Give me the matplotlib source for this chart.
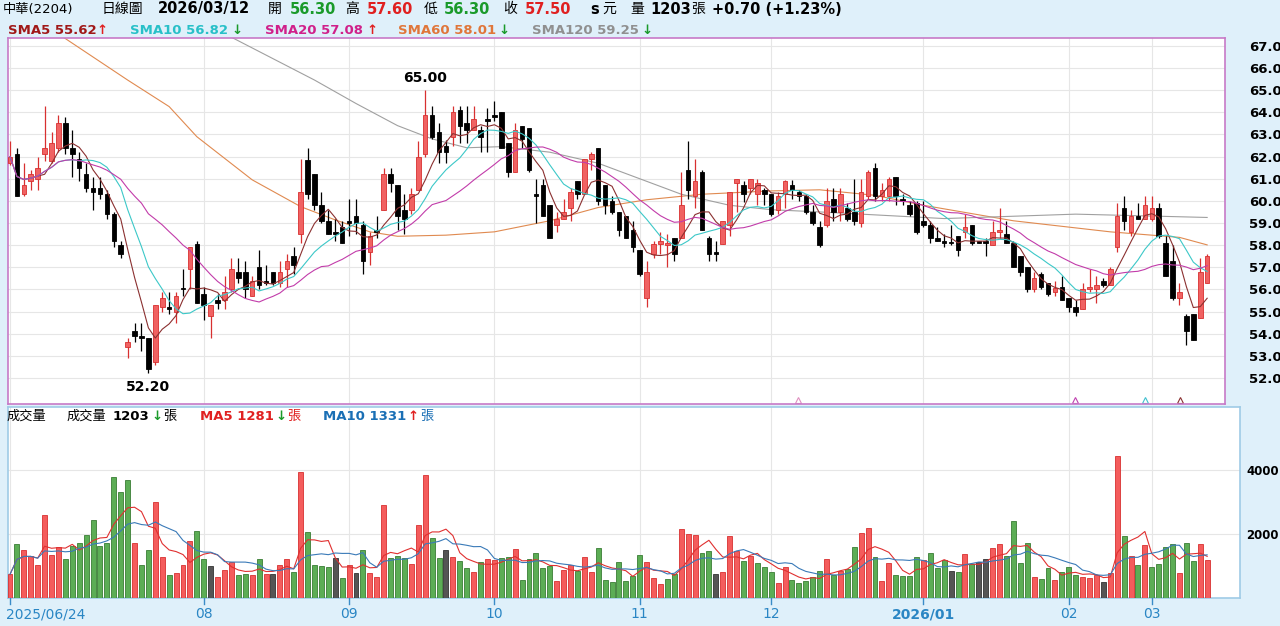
import numpy as np
import pandas as pd
import matplotlib
matplotlib.use("Agg")
import matplotlib.pyplot as plt
from matplotlib.patches import Rectangle

plt.rcParams['font.family'] = ['DejaVu Sans', 'Noto Sans CJK TC']

# ---- data (2204 daily, 2025/06/24 .. 2026/03/12) ----
opens = [61.7, 62.1, 60.3, 60.9, 61.0, 62.1, 61.8, 62.4, 63.5, 62.4,
         61.9, 61.2, 60.6, 60.6, 60.3, 59.4, 58.0, 53.4, 54.1, 53.9,
         53.8, 52.7, 55.2, 55.2, 55.0, 56.0, 56.9, 58.05, 55.8, 54.8,
         55.5, 55.5, 56.0, 56.8, 56.8, 55.7, 57.0, 56.4, 56.8, 56.3,
         56.9, 57.5, 58.5, 61.85, 61.2, 59.8, 59.1, 58.6, 58.8, 59.1,
         59.3, 58.9, 57.7, 58.7, 59.6, 61.2, 60.7, 59.6, 59.6, 60.5,
         62.1, 63.9, 63.1, 62.5, 62.9, 64.1, 63.5, 63.2, 63.2, 63.7,
         63.9, 64.0, 62.6, 61.3, 63.4, 63.3, 60.3, 60.7, 59.8, 58.9,
         59.2, 59.7, 60.9, 60.3, 61.9, 62.4, 60.7, 60.0, 59.5, 59.3,
         58.7, 57.8, 55.6, 57.6, 58.05, 58.0, 58.3, 58.3, 61.4, 60.2,
         61.3, 58.3, 57.7, 58.05, 58.9, 60.8, 60.7, 60.6, 60.3, 60.5,
         60.3, 59.6, 60.3, 60.7, 60.4, 60.2, 59.5, 58.8, 58.9, 60.1,
         59.5, 59.7, 59.5, 59.0, 60.2, 61.5, 60.2, 60.2, 61.1, 60.1,
         59.8, 59.9, 59.1, 58.9, 58.3, 58.2, 58.1, 58.4, 58.6, 58.9,
         58.2, 58.2, 58.0, 58.6, 58.5, 58.1, 57.5, 57.0, 56.0, 56.7,
         56.3, 55.9, 56.1, 55.6, 55.2, 55.1, 56.0, 56.0, 56.4, 56.2,
         57.9, 59.7, 58.6, 59.3, 59.2, 59.2, 59.7, 58.1, 57.3, 55.6,
         54.8, 54.9, 54.7, 56.3]
highs = [62.7, 62.4, 61.7, 61.4, 62.0, 64.3, 63.1, 63.9, 63.8, 63.2,
         62.2, 61.7, 61.1, 61.1, 60.5, 59.5, 58.2, 53.8, 54.5, 54.5,
         53.8, 55.3, 55.9, 55.9, 55.9, 56.9, 57.9, 58.2, 56.1, 55.3,
         55.8, 56.6, 57.4, 57.4, 57.3, 56.6, 57.8, 57.1, 56.8, 57.3,
         57.6, 57.9, 61.9, 62.4, 61.2, 60.4, 59.6, 59.2, 59.1, 60.1,
         60.1, 59.1, 58.6, 59.3, 61.5, 61.5, 60.7, 60.3, 60.6, 62.7,
         65.0, 64.3, 63.5, 62.75, 64.3, 64.3, 64.3, 64.3, 63.4, 64.2,
         64.5, 64.0, 62.6, 63.5, 63.4, 63.3, 61.0, 61.0, 59.8, 59.5,
         60.1, 60.6, 60.9, 61.9, 62.2, 62.4, 60.7, 60.2, 59.5, 59.3,
         59.1, 57.8, 57.3, 58.2, 58.6, 58.5, 58.3, 61.3, 62.7, 61.9,
         61.4, 58.4, 58.2, 59.1, 60.4, 61.0, 60.9, 61.0, 61.0, 60.6,
         60.3, 60.4, 60.95, 60.95, 60.5, 60.3, 59.8, 59.1, 60.6, 60.6,
         60.6, 59.9, 61.0, 61.0, 61.4, 61.7, 60.8, 61.1, 61.1, 60.3,
         60.0, 60.0, 60.0, 59.1, 58.8, 58.5, 58.9, 58.4, 59.4, 58.9,
         58.2, 58.3, 59.1, 59.7, 59.1, 58.2, 57.5, 57.0, 56.8, 56.8,
         56.3, 56.4, 56.6, 55.6, 55.5, 56.3, 56.9, 56.6, 56.5, 57.0,
         59.9, 60.2, 59.6, 59.9, 60.2, 60.2, 59.9, 58.4, 58.0, 56.3,
         54.9, 54.9, 57.4, 57.6]
lows = [61.6, 60.2, 60.2, 60.5, 60.5, 61.8, 61.7, 62.2, 62.1, 61.1,
        60.9, 60.4, 59.6, 60.1, 59.2, 57.9, 57.4, 52.9, 53.6, 53.2,
        52.2, 52.6, 55.0, 54.9, 54.5, 55.7, 56.0, 55.4, 54.6, 53.8,
        55.1, 55.1, 55.9, 56.3, 55.6, 55.7, 56.0, 56.2, 56.2, 56.1,
        56.1, 56.7, 58.1, 60.1, 59.6, 59.0, 58.5, 58.2, 58.1, 58.4,
        58.5, 56.7, 57.1, 58.3, 59.6, 60.4, 58.7, 58.5, 59.4, 60.5,
        62.0, 62.8, 61.7, 61.7, 62.5, 62.6, 62.6, 63.2, 62.2, 62.2,
        63.6, 62.4, 61.1, 61.3, 62.4, 61.3, 59.0, 59.3, 58.3, 58.6,
        59.2, 59.1, 60.1, 60.3, 61.4, 59.8, 59.4, 59.4, 58.4, 58.3,
        57.7, 56.6, 55.2, 57.4, 57.6, 57.0, 57.3, 58.3, 60.1, 59.7,
        58.7, 57.3, 57.3, 58.05, 58.4, 59.5, 59.97, 60.3, 59.8, 59.8,
        59.3, 59.4, 59.7, 60.1, 60.0, 59.4, 58.9, 57.9, 58.8, 59.1,
        59.1, 59.1, 58.9, 58.8, 60.1, 60.0, 60.0, 60.0, 59.8, 59.8,
        59.3, 58.5, 58.8, 58.1, 58.2, 57.9, 58.0, 57.5, 58.3, 58.0,
        58.1, 57.5, 58.0, 58.3, 58.1, 57.0, 56.6, 55.9, 55.9, 56.0,
        55.7, 55.7, 55.5, 55.0, 54.8, 55.1, 55.9, 55.4, 56.1, 56.2,
        57.7, 58.7, 58.4, 59.2, 59.2, 59.1, 58.3, 56.6, 55.5, 55.3,
        53.5, 53.7, 54.7, 56.3]
closes = [62.0, 60.2, 60.7, 61.2, 61.5, 62.4, 62.6, 63.5, 62.4, 62.1,
          61.5, 60.6, 60.4, 60.3, 59.4, 58.2, 57.6, 53.6, 53.9, 53.8,
          52.4, 55.3, 55.6, 55.1, 55.7, 56.0, 57.9, 55.4, 55.3, 55.3,
          55.4, 55.9, 56.9, 56.5, 56.0, 56.4, 56.2, 56.3, 56.3, 56.8,
          57.3, 57.1, 60.4, 60.3, 59.8, 59.1, 58.5, 58.5, 58.1, 59.0,
          59.0, 57.3, 58.4, 58.6, 61.2, 60.8, 59.3, 59.2, 60.3, 62.0,
          63.9, 62.9, 62.2, 62.2, 64.0, 63.4, 63.2, 63.7, 62.9, 63.6,
          63.8, 62.4, 61.3, 63.2, 62.8, 61.4, 60.2, 59.3, 58.3, 59.2,
          59.5, 60.4, 60.3, 61.9, 62.1, 60.0, 59.8, 59.5, 58.7, 58.3,
          57.9, 56.7, 56.8, 58.05, 58.2, 58.1, 57.6, 59.8, 60.5, 60.9,
          58.7, 57.6, 57.6, 59.1, 60.4, 61.0, 60.3, 61.0, 60.8, 60.3,
          59.4, 60.2, 60.9, 60.5, 60.2, 59.5, 59.0, 58.0, 60.0, 59.5,
          60.3, 59.2, 59.1, 60.4, 61.3, 60.2, 60.5, 61.0, 60.2, 60.0,
          59.4, 58.6, 58.9, 58.3, 58.2, 58.1, 58.1, 57.8, 58.8, 58.1,
          58.1, 58.1, 58.6, 58.7, 58.1, 57.0, 56.8, 56.0, 56.5, 56.1,
          55.8, 56.05, 55.5, 55.2, 55.0, 56.0, 56.1, 56.2, 56.2, 56.9,
          59.3, 59.1, 59.3, 59.2, 59.8, 59.7, 58.4, 56.6, 55.6, 55.9,
          54.1, 53.7, 56.8, 57.5]
volumes = [740, 1680, 1490, 1310, 1030, 2610, 1360, 1590, 1230, 1625,
           1710, 1990, 2460, 1625, 1710, 3780, 3330, 3700, 1710, 1020,
           1490, 3020, 1290, 710, 770, 1020, 1780, 2090, 1210, 990,
           670, 890, 1135, 710, 760, 710, 1230, 740, 740, 1040,
           1230, 830, 3960, 2070, 1020, 990, 970, 1260, 615, 1050,
           770, 1520, 780, 670, 2920, 1260, 1310, 1260, 1080, 2300,
           3850, 1875, 1250, 1520, 1290, 1160, 950, 820, 1125, 1230,
           1180, 1260, 1290, 1550, 550, 1210, 1400, 950, 1000, 520,
           890, 1020, 840, 1300, 800, 1570, 550, 490, 1125, 540,
           690, 1360, 1135, 635, 430, 600, 740, 2150, 2020, 1990,
           1420, 1470, 740, 810, 1960, 1470, 1160, 1310, 1100, 980,
           810, 460, 980, 570, 460, 520, 670, 840, 1210, 720,
           840, 920, 1600, 2040, 2200, 1290, 530, 1100, 720, 690,
           690, 1290, 1180, 1420, 940, 1180, 850, 820, 1390, 1070,
           1135, 1230, 1570, 1700, 1320, 2400, 1100, 1730, 655, 595,
           950, 570, 810, 980, 710, 645, 625, 710, 510, 790,
           4460, 1960, 1330, 1020, 1660, 970, 1080, 1590, 1700, 770,
           1730, 1150, 1680, 1203]

# long averages need history before the window: read as knots (candle index, value)
sma60_idx = [0, 17, 23, 27, 35, 42, 47, 52, 56, 63, 70, 78, 85, 92, 100, 110,
             117, 125, 132, 145, 159, 169, 173]
sma60_val = [69.0, 65.46, 64.26, 62.9, 60.95, 59.74, 59.14, 58.6, 58.4, 58.45,
             58.6, 59.1, 59.7, 60.05, 60.3, 60.45, 60.5, 60.25, 59.8, 59.1,
             58.6, 58.35, 58.01]
sma120_idx = [27, 44, 50, 56, 61, 66, 71, 78, 85, 91, 97, 104, 110, 117, 135,
              154, 173]
sma120_val = [68.2, 65.46, 64.4, 63.4, 62.8, 62.4, 62.45, 62.2, 61.7, 61.0,
              60.3, 59.8, 59.6, 59.5, 59.2, 59.4, 59.25]

month_pos = [0, 28, 49, 70, 91, 110, 132, 153, 165]
month_lab = ['2025/06/24', '08', '09', '10', '11', '12', '2026/01', '02', '03']
price_ticks = [52.0, 53.0, 54.0, 55.0, 56.0, 57.0, 58.0, 59.0, 60.0, 61.0,
               62.0, 63.0, 64.0, 65.0, 66.0, 67.0]

df = pd.DataFrame({'o': opens, 'h': highs, 'l': lows, 'c': closes, 'v': volumes})
n = len(df)
x = np.arange(n)
sma5 = df.c.rolling(5, min_periods=1).mean()
sma10 = df.c.rolling(10, min_periods=1).mean()
sma20 = df.c.rolling(20, min_periods=1).mean()
vma5 = df.v.rolling(5, min_periods=1).mean()
vma10 = df.v.rolling(10, min_periods=1).mean()

# ---- layout in pixels ----
W, H = 1280, 626
BG = '#dff0fa'
fig = plt.figure(figsize=(12.8, 6.26), dpi=100, facecolor=BG)


def box(l, t, r, b):
    return [l / W, 1 - b / H, (r - l) / W, (b - t) / H]


def px(xp, yp):
    return xp / W, 1 - yp / H


# x scale: candle i at pixel 10 + 6.92*i
def idx_at(xp):
    return (xp - 10) / 6.92


ax = fig.add_axes(box(8, 38, 1225, 404))
axv = fig.add_axes(box(8, 407, 1240, 598))
ax.set_facecolor('white')
axv.set_facecolor('white')
ax.set_xlim(idx_at(8), idx_at(1225))
axv.set_xlim(idx_at(8), idx_at(1240))
ax.set_ylim(50.82, 67.36)
axv.set_ylim(0, 5990)

for a, col in ((ax, '#c77ac7'), (axv, '#9fcbe6')):
    for s in a.spines.values():
        s.set_color(col)
        s.set_linewidth(1.2)
    a.tick_params(left=False, bottom=False, labelleft=False, labelbottom=False,
                  right=False, labelright=True)

ax.set_yticks(price_ticks)
ax.set_yticklabels([f'{t:.1f}' for t in price_ticks], fontsize=9.5, fontweight='bold')
axv.set_yticks([2000, 4000])
axv.set_yticklabels(['2000', '4000'], fontsize=8.5, fontweight='bold')
ax.tick_params(axis='y', pad=14)
axv.tick_params(axis='y', pad=1)
for a in (ax, axv):
    a.set_xticks(month_pos)
    a.grid(True, color='#e6e6e6', linewidth=0.8)
    a.set_axisbelow(True)

# candles
wbody = 0.66
for i, r in df.iterrows():
    up = r.c > r.o
    col = '#f06262' if up else 'black'
    edge = '#d83030' if up else 'black'
    ax.vlines(i, r.l, r.h, color=edge, linewidth=0.9, zorder=3)
    lo, hi = min(r.o, r.c), max(r.o, r.c)
    ax.add_patch(Rectangle((i - wbody / 2, lo), wbody, max(hi - lo, 0.06),
                           facecolor=col, edgecolor=edge, linewidth=0.6, zorder=4))

ax.plot(x, sma5, color='#8b3030', lw=0.8, zorder=5)
ax.plot(x, sma10, color='#3cc8c8', lw=0.8, zorder=5)
ax.plot(x, sma20, color='#c23caa', lw=0.8, zorder=5)
ax.plot(sma60_idx, sma60_val, color='#e08a50', lw=0.8, zorder=2)
ax.plot(sma120_idx, sma120_val, color='#a0a0a0', lw=0.8, zorder=2)

ax.text(60, 65.25, '65.00', ha='center', va='bottom', fontsize=10, fontweight='bold')
ax.text(20, 51.9, '52.20', ha='center', va='top', fontsize=10, fontweight='bold')

for xp, col in ((798, '#e090c0'), (1075, '#c040b0'), (1145, '#40c0d0'), (1180, '#8b3030')):
    ax.plot(idx_at(xp), 51.0, marker='^', markersize=5, markerfacecolor='none',
            markeredgecolor=col, markeredgewidth=0.8, clip_on=False)

# volume bars: red up, green down, grey unchanged vs previous close
prev = df.c.shift(1)
vcol, vedge = [], []
for i in range(n):
    if i == 0 or df.c[i] > prev[i]:
        vcol.append('#f45c5c'); vedge.append('#d83030')
    elif df.c[i] < prev[i]:
        vcol.append('#5cad55'); vedge.append('#3a7d35')
    else:
        vcol.append('#555555'); vedge.append('#333333')
axv.bar(x, df.v, width=0.72, color=vcol, edgecolor=vedge, linewidth=0.6, zorder=3)
axv.plot(x, vma5, color='#e03030', lw=0.8, zorder=4)
axv.plot(x, vma10, color='#3a7ab8', lw=0.8, zorder=4)

# date strip
for i, lab in zip(month_pos, month_lab):
    xp = 8 + (i - idx_at(8)) * 6.92
    fig.add_artist(plt.Line2D([xp / W, xp / W], [1 - 598 / H, 1 - 604 / H], color='#3a8cc8', lw=1))
    if i == 0:
        fig.text(*px(6, 614), lab, ha='left', va='center', fontsize=10, color='#2a86c4')
    else:
        fig.text(*px(xp, 614), lab, ha='center', va='center', fontsize=10, color='#2a86c4',
                 fontweight='bold' if lab == '2026/01' else 'normal')


def put(xp, yp, s, color='black', bold=False, size=10.5):
    fig.text(*px(xp, yp), s, ha='left', va='center', fontsize=size, color=color,
             fontweight='bold' if bold else 'normal')


# header row
GR, RD = '#1a9a2a', '#e02020'
put(3, 9, '中華(2204)', size=9.5)
put(102, 9, '日線圖', size=10)
put(158, 9, '2026/03/12', bold=True)
put(268, 9, '開', size=10); put(290, 9, '56.30', GR, True)
put(345, 9, '高', size=10); put(367, 9, '57.60', RD, True)
put(424, 9, '低', size=10); put(444, 9, '56.30', GR, True)
put(503, 9, '收', size=10); put(525, 9, '57.50', RD, True)
put(590, 9, 's', bold=True); put(602, 9, '元', size=10)
put(630, 9, '量', size=10); put(650, 9, '1203', bold=True); put(691, 9, '張', size=10)
put(712, 9, '+0.70 (+1.23%)', bold=True)

# MA legend
put(8, 30, 'SMA5 55.62', '#a01818', True, 9.5); put(96, 30, '↑', RD, True, 9.5)
put(130, 30, 'SMA10 56.82', '#28c0c8', True, 9.5); put(231, 30, '↓', GR, True, 9.5)
put(265, 30, 'SMA20 57.08', '#d0208a', True, 9.5); put(366, 30, '↑', RD, True, 9.5)
put(398, 30, 'SMA60 58.01', '#e0763a', True, 9.5); put(498, 30, '↓', GR, True, 9.5)
put(532, 30, 'SMA120 59.25', '#909090', True, 9.5); put(641, 30, '↓', GR, True, 9.5)

# volume legend
put(7, 416, '成交量', size=9.5)
put(67, 416, '成交量', size=9.5)
put(113, 416, '1203', bold=True, size=9.5); put(151, 416, '↓', GR, True, 9.5); put(163, 416, '張', size=9.5)
put(200, 416, 'MA5 1281', RD, True, 9.5); put(275, 416, '↓', GR, True, 9.5); put(287, 416, '張', RD, size=9.5)
put(323, 416, 'MA10 1331', '#1a6fb5', True, 9.5); put(407, 416, '↑', RD, True, 9.5); put(420, 416, '張', '#1a6fb5', size=9.5)

fig.savefig('out.png', dpi=100, facecolor=BG)
